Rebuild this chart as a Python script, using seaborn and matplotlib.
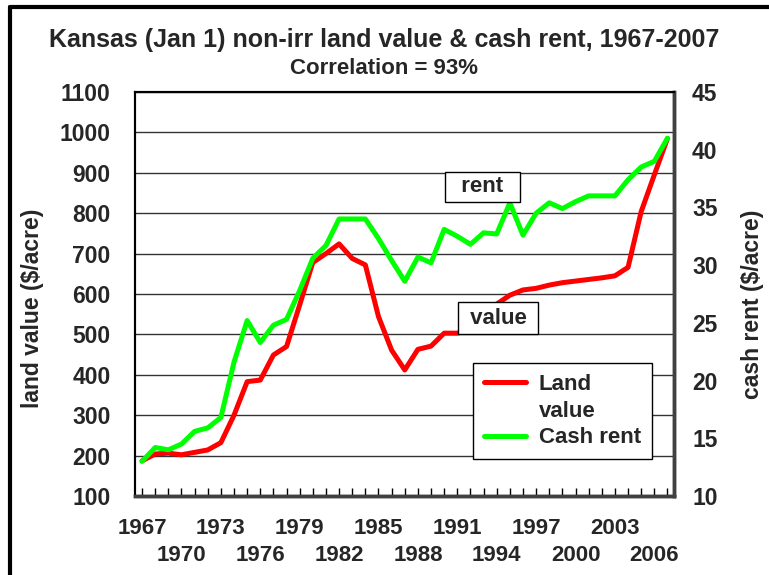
import matplotlib.pyplot as plt
import numpy as np
import pandas as pd
import seaborn as sns
from matplotlib.lines import Line2D

# values
years = list(range(1967, 2008))
land_value = [187, 204, 206, 202, 208, 214, 232, 300, 383, 387,
              449, 470, 573, 678, 700, 724, 688, 672, 544, 461,
              412, 463, 471, 503, 503, 511, 540, 575, 597, 610,
              614, 622, 628, 632, 636, 640, 645, 666, 804, 895, 985]
cash_rent = [13.0, 14.2, 14.0, 14.5, 15.6, 15.9, 16.8, 21.6, 25.2, 23.3,
             24.8, 25.3, 27.8, 30.6, 31.7, 34.0, 34.0, 34.0, 32.3, 30.4,
             28.6, 30.7, 30.2, 33.1, 32.5, 31.8, 32.8, 32.7, 35.4, 32.6,
             34.5, 35.4, 34.9, 35.5, 36.0, 36.0, 36.0, 37.4, 38.5, 39.0, 41.0]
row1_years = list(range(1967, 2007, 6))   # upper row of year labels
row2_years = list(range(1970, 2007, 6))   # lower row

df = pd.DataFrame({"Year": years, "Land": land_value, "Rent": cash_rent})

sns.set_style("white")
plt.rcParams['font.family'] = ['Liberation Sans', 'DejaVu Sans']
plt.rcParams['font.weight'] = 'bold'

fig = plt.figure(figsize=(7.69, 5.75), dpi=100)
ax = fig.add_axes([0.1762, 0.1374, 0.7003, 0.7026])
ax2 = ax.twinx()

sns.lineplot(data=df, x="Year", y="Land", ax=ax, color="#FF0000", lw=3.6,
             solid_capstyle="round", legend=False, zorder=3)
sns.lineplot(data=df, x="Year", y="Rent", ax=ax2, color="#00FF00", lw=3.6,
             solid_capstyle="round", legend=False, zorder=3)

ax.set_xlim(1966.5, 2007.5)
ax.set_ylim(100, 1100)
ax2.set_ylim(10, 45)

# left axis + grid
ax.set_yticks(np.arange(100, 1101, 100))
ax.yaxis.grid(True, color="#333333", lw=1)
ax.tick_params(axis="y", length=0, pad=18, labelsize=16.5)
ax2.set_yticks(np.arange(10, 46, 5))
ax2.tick_params(axis="y", length=0, pad=13, labelsize=16.5)

# staggered year labels: major = top row, minor = bottom row
ax.set_xticks(row1_years)
ax.set_xticklabels([str(y) for y in row1_years], fontsize=16, fontweight="bold")
ax.set_xticks(row2_years, minor=True)
ax.set_xticklabels([str(y) for y in row2_years], minor=True, fontsize=16, fontweight="bold")
ax.tick_params(axis="x", which="major", length=0, pad=16)
ax.tick_params(axis="x", which="minor", length=0, pad=35)

# tick marks at every year
sec = ax.secondary_xaxis("bottom")
sec.set_xticks(years)
sec.set_xticklabels([])
sec.tick_params(direction="in", length=6, width=1, color="black")
sec.spines["bottom"].set_visible(False)

ax.set_xlabel("")
ax.set_ylabel("")
ax2.set_ylabel("")

for a in (ax, ax2):
    a.spines["left"].set_color("black")
    a.spines["left"].set_linewidth(1.5)
    a.spines["top"].set_color("black")
    a.spines["top"].set_linewidth(1.5)
    a.spines["right"].set_color("#404040")
    a.spines["right"].set_linewidth(2.5)
    a.spines["bottom"].set_color("#404040")
    a.spines["bottom"].set_linewidth(2.5)

# axis titles
fig.text(33 / 769, 1 - 308 / 575, "land value ($/acre)", rotation=90,
         ha="center", va="center", fontsize=16.5, fontweight="bold")
fig.text(752 / 769, 1 - 304 / 575, "cash rent ($/acre)", rotation=90,
         ha="center", va="center", fontsize=16.5, fontweight="bold")

# chart title
fig.text(0.5, 1 - 40 / 575, "Kansas (Jan 1) non-irr land value & cash rent, 1967-2007",
         ha="center", va="center", fontsize=18, fontweight="bold")
fig.text(0.5, 1 - 68 / 575, "Correlation = 93%",
         ha="center", va="center", fontsize=16, fontweight="bold")

# in-plot labels
ax2.text(1992.9, 36.8, "  rent  ", ha="center", va="center", fontsize=16,
         fontweight="bold", zorder=5,
         bbox=dict(boxstyle="square,pad=0.2", fc="white", ec="black", lw=1))
ax2.text(1994.1, 540, " value ", ha="center", va="center", fontsize=16,
         fontweight="bold", zorder=5, transform=ax.transData,
         bbox=dict(boxstyle="square,pad=0.25", fc="white", ec="black", lw=1))

# legend with the handle next to the first line of "Land value"
handles = [Line2D([], [], color="#FF0000", lw=3.6),
           Line2D([], [], color="none"),
           Line2D([], [], color="#00FF00", lw=3.6)]
leg = ax2.legend(handles, ["Land", "value", "Cash rent"], loc="upper left",
                 bbox_to_anchor=(0.627, 0.329), borderaxespad=0, fancybox=False,
                 framealpha=1, edgecolor="black", fontsize=16, handlelength=1.9,
                 labelspacing=0.25, borderpad=0.5, handletextpad=0.55)
leg.get_frame().set_linewidth(1)
leg.set_zorder(6)

# chart area border (top and left edges visible)
fig.add_artist(Line2D([10 / 769, 1], [1 - 7 / 575, 1 - 7 / 575], color="black", lw=3))
fig.add_artist(Line2D([10 / 769, 10 / 769], [0, 1 - 7 / 575], color="black", lw=3))

plt.savefig("out.png", dpi=100)
